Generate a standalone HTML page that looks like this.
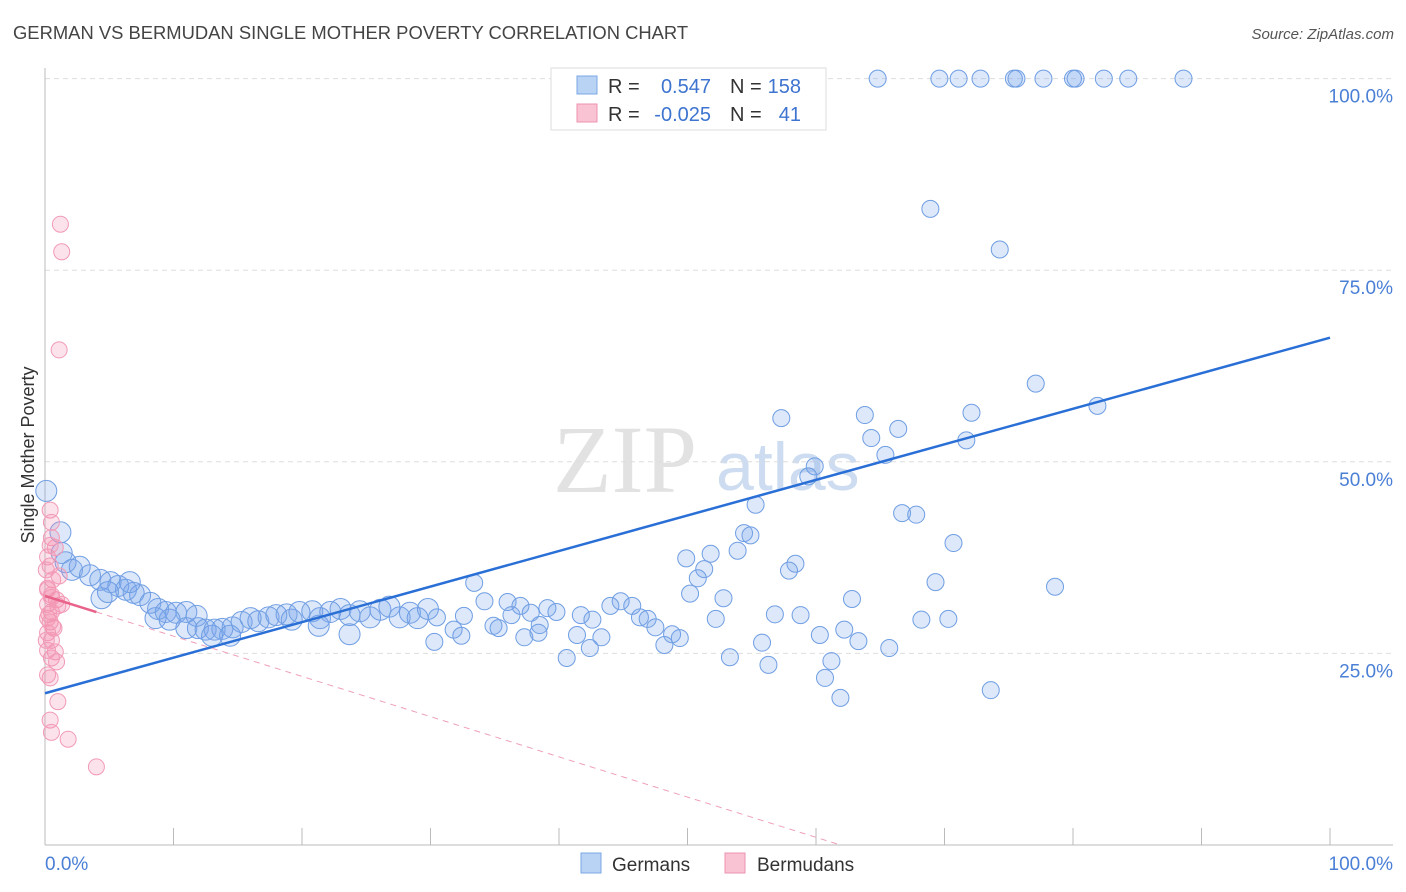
<!DOCTYPE html>
<html><head><meta charset="utf-8"><style>
body{margin:0;background:#fff;font-family:"Liberation Sans",sans-serif}
</style></head><body>
<svg id="chart" width="1406" height="892" xmlns="http://www.w3.org/2000/svg" style="display:block">
<text x="13" y="39" font-size="18.4" fill="#444">GERMAN VS BERMUDAN SINGLE MOTHER POVERTY CORRELATION CHART</text>
<text x="1394" y="39" font-size="15" fill="#555" font-style="italic" text-anchor="end">Source: ZipAtlas.com</text>
<g>
<text x="553" y="492" font-size="96" font-family="Liberation Serif,serif" fill="#e2e2e2">ZIP</text>
<text x="716" y="490" font-size="68" fill="#cddcf0">atlas</text>
</g>
<g id="grid"></g>
<g id="axes"></g>
<g id="pts"></g>
<g id="lines"></g>
<text transform="translate(34,455) rotate(-90)" font-size="18" fill="#333" text-anchor="middle">Single Mother Poverty</text>
<g>
<rect x="551" y="68" width="275" height="62" fill="#fff" stroke="#ddd"/>
<rect x="577" y="76" width="20" height="18" fill="#b9d3f5" stroke="#7aa7e6"/>
<rect x="577" y="104" width="20" height="18" fill="#f9c3d3" stroke="#ee93b0"/>
<text x="608" y="93" font-size="20" fill="#333">R =</text>
<text x="711" y="93" font-size="20" fill="#3d74d0" text-anchor="end">0.547</text>
<text x="730" y="93" font-size="20" fill="#333">N =</text>
<text x="801" y="93" font-size="20" fill="#3d74d0" text-anchor="end">158</text>
<text x="608" y="121" font-size="20" fill="#333">R =</text>
<text x="711" y="121" font-size="20" fill="#3d74d0" text-anchor="end">-0.025</text>
<text x="730" y="121" font-size="20" fill="#333">N =</text>
<text x="801" y="121" font-size="20" fill="#3d74d0" text-anchor="end">41</text>
</g>
<g>
<rect x="581" y="853" width="20" height="20" fill="#b9d3f5" stroke="#7aa7e6"/>
<text x="612" y="871" font-size="19" fill="#333">Germans</text>
<rect x="725" y="853" width="20" height="20" fill="#f9c3d3" stroke="#ee93b0"/>
<text x="757" y="871" font-size="19" fill="#333">Bermudans</text>
</g>
</svg>
<script>
const yTicks=[25,50,75,100];
const yTickLabels=["25.0%","50.0%","75.0%","100.0%"];
const xTickLabels=["0.0%","100.0%"];
const germansX=[64.8,69.6,71.1,72.8,75.4,75.6,77.7,80.0,80.2,82.4,84.3,88.6,68.9,74.3,77.1,81.9,57.3,63.8,72.1,66.4,64.3,71.7,65.4,59.9,59.4,55.3,66.7,67.8,54.4,54.9,70.7,49.9,51.8,53.9,51.3,58.4,57.9,50.8,69.3,78.6,33.4,50.2,52.8,62.8,34.2,36.0,37.0,44.8,45.7,39.1,39.8,44.0,56.8,58.8,52.2,68.2,70.3,32.6,30.5,37.8,41.7,42.6,46.3,46.9,36.3,47.5,38.5,34.9,35.3,31.8,41.4,43.3,48.8,49.4,60.3,62.2,55.8,63.3,38.4,37.3,65.7,48.2,42.4,30.3,32.4,40.6,53.3,61.2,56.3,60.7,61.9,73.6,0.1,1.2,1.3,1.6,2.1,2.7,3.5,4.3,5.1,5.7,6.3,6.9,7.4,4.4,8.2,8.8,9.4,10.2,11.0,11.8,8.6,9.7,11.0,11.9,12.5,13.2,13.8,14.6,15.3,16.0,16.6,17.4,18.0,18.8,19.2,19.8,20.8,21.4,22.2,23.0,23.7,24.5,25.3,26.1,26.8,27.6,28.4,29.0,29.8,21.3,23.7,14.4,13.0,6.6,4.9];
const germansY=[100,100,100,100,100,100,100,100,100,100,100,100,83.0,77.7,60.2,57.3,55.7,56.1,56.4,54.3,53.1,52.8,50.9,49.4,48.1,44.4,43.3,43.1,40.7,40.4,39.4,37.4,38.0,38.4,36.0,36.7,35.8,34.8,34.3,33.7,34.2,32.8,32.2,32.1,31.8,31.7,31.2,31.8,31.2,30.9,30.4,31.2,30.1,30.0,29.5,29.4,29.5,29.9,29.7,30.3,30.0,29.4,29.7,29.5,30.0,28.4,28.7,28.6,28.3,28.1,27.4,27.1,27.5,27.0,27.4,28.1,26.4,26.6,27.7,27.1,25.7,26.1,25.7,26.5,27.3,24.4,24.5,24.0,23.5,21.8,19.2,20.2,46.2,40.8,38.1,36.9,35.9,36.3,35.2,34.6,34.3,33.8,33.3,32.9,32.6,32.2,31.6,30.8,30.4,30.3,30.4,29.9,29.6,29.4,28.3,28.3,28.1,28.1,28.2,28.4,29.1,29.6,29.2,29.7,30.0,30.1,29.4,30.4,30.5,29.6,30.4,30.8,30.0,30.5,29.7,30.7,31.1,29.7,30.3,29.6,30.8,28.6,27.5,27.3,27.3,34.3,33.0];
const bermudansX=[1.2,1.3,1.1,0.4,0.5,0.5,0.8,0.2,0.4,0.6,0.2,0.5,0.9,0.2,1.0,0.5,0.2,0.4,0.7,0.2,0.5,0.8,0.5,0.4,1.0,0.4,0.5,1.8,4.0,0.1,0.2,0.3,0.5,0.4,0.2,0.9,0.2,1.3,0.6,0.1,1.1];
const bermudansY=[81.0,77.4,64.6,43.7,42.1,40.1,38.8,37.6,36.4,34.6,33.5,32.6,32.0,31.4,31.2,30.4,29.6,29.1,28.3,27.7,26.7,25.2,24.4,21.8,18.7,16.3,14.7,13.8,10.2,35.9,33.3,30.1,32.3,39.1,25.4,23.9,22.2,31.4,28.5,26.7,35.1];
const germanTrend=[19.8,66.2];
const bermudanTrend=[32.5,-0.525];
const NS="http://www.w3.org/2000/svg";
const X=v=>45+v*12.85, Y=v=>845-v*7.664;
function mk(t,a,p){const e=document.createElementNS(NS,t);for(const k in a)e.setAttribute(k,a[k]);document.getElementById(p).appendChild(e);return e;}
yTicks.forEach((t,i)=>{
 const g=mk('line',{x1:45,x2:1393,y1:Y(t),y2:Y(t),stroke:'#ddd','stroke-dasharray':'5,4'},'grid');
 
 
 const l=mk('text',{x:1393,y:Y(t)+24,'font-size':19,fill:'#4a7fd6','text-anchor':'end'},'axes');
 l.textContent=yTickLabels[i];
 
 
});
mk('line',{x1:45,x2:45,y1:68,y2:845,stroke:'#bbb'},'axes');
mk('line',{x1:45,x2:1393,y1:845,y2:845,stroke:'#bbb'},'axes');
for(let i=0;i<=10;i++){mk('line',{x1:X(i*10),x2:X(i*10),y1:828,y2:845,stroke:'#bbb'},'axes');}
[[0,'start',45],[100,'end',1393]].forEach((d,i)=>{const t=mk('text',{x:d[2],y:870,'font-size':19,fill:'#4a7fd6','text-anchor':d[1]},'axes');t.textContent=xTickLabels[i];
 
 });
germansX.forEach((x,i)=>{const r=x<30?10.5:8.5;
 const c=mk('circle',{cx:X(x),cy:Y(germansY[i]),r:r,fill:'rgba(120,165,235,0.25)',stroke:'#6f9ee3','stroke-width':1},'pts');
 
 });
bermudansX.forEach((x,i)=>{
 const c=mk('circle',{cx:X(x),cy:Y(bermudansY[i]),r:8,fill:'rgba(245,145,175,0.25)',stroke:'#f29ab6','stroke-width':1},'pts');
 
 });
const gl=mk('line',{x1:X(0),y1:Y(germanTrend[0]),x2:X(100),y2:Y(germanTrend[1]),stroke:'#2a6fd6','stroke-width':2.5},'lines');


const xEnd=-bermudanTrend[0]/bermudanTrend[1];
const bd=mk('line',{x1:X(4),y1:Y(bermudanTrend[0]+bermudanTrend[1]*4),x2:X(xEnd),y2:Y(0),stroke:'#eea0b8','stroke-width':1,'stroke-dasharray':'6,5'},'lines');


const bl=mk('line',{x1:X(0),y1:Y(bermudanTrend[0]),x2:X(4),y2:Y(bermudanTrend[0]+bermudanTrend[1]*4),stroke:'#e8628a','stroke-width':2.5},'lines');


</script>
</body></html>
